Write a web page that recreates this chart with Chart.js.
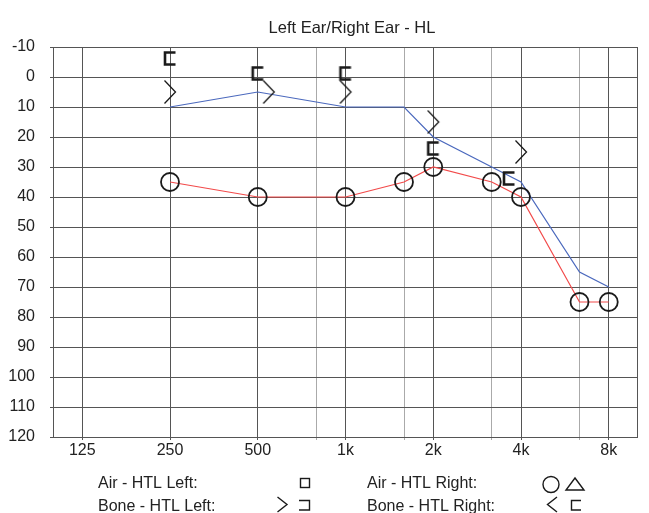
<!DOCTYPE html>
<html>
<head>
<meta charset="utf-8">
<script src="https://cdn.jsdelivr.net/npm/chart.js@4.4.1/dist/chart.umd.min.js"></script>
<style>
  html, body { margin: 0; padding: 0; background: #fff; }
  #wrap { width: 649px; height: 513px; }
</style>
</head>
<body>
<div id="wrap"><canvas id="audiogram" width="649" height="513"></canvas></div>
<script>
// frequencies on the x axis (Hz) and their labels
const gridFreqs = [125, 250, 500, 750, 1000, 1500, 2000, 3000, 4000, 6000, 8000];
const octaveLabels = ["125", "250", "500", "1k", "2k", "4k", "8k"];

// Air - HTL Left (blue line, no marks drawn)
const leftAirFreqs = [250, 500, 1000, 1500, 2000, 3000, 4000, 6000, 8000];
const leftAirDb = [10, 5, 10, 10, 20, 30, 35, 65, 70];

// Air - HTL Right (red line with circles)
const rightAirFreqs = [250, 500, 1000, 1500, 2000, 3000, 4000, 6000, 8000];
const rightAirDb = [35, 40, 40, 35, 30, 35, 40, 75, 75];

// Bone - HTL Left  ">"
const leftBoneFreqs = [250, 500, 1000, 2000, 4000];
const leftBoneDb = [5, 5, 5, 15, 25];

// Bone - HTL Right (masked) "["
const rightBoneFreqs = [250, 500, 1000, 2000, 4000];
const rightBoneDb = [-5, 0, 0, 25, 35];

const FONT = "'Liberation Sans', Arial, sans-serif";
const TEXT = "#222";

// audiogram x position: octaves from 125 Hz, in-between freqs sit 2/3 of the way
function freqPos(f) {
  const o = Math.log2(f / 125);
  const base = Math.floor(o + 1e-9);
  return (o - base < 1e-6) ? base : base + 2 / 3;
}
function points(freqs, db) {
  return freqs.map((f, i) => ({ x: freqPos(f), y: db[i] }));
}

// marker glyphs as little canvases (dx = sideways nudge where marks overlap)
function glyph(kind, dx) {
  const c = document.createElement("canvas");
  c.width = 60; c.height = 40;
  const g = c.getContext("2d");
  const x = 30 + dx, y = 20;
  g.strokeStyle = "#1a1a1a";
  if (kind === ">") {
    g.lineWidth = 1.3;
    g.beginPath();
    g.moveTo(x - 5.5, y - 11.5);
    g.lineTo(x + 5.5, y);
    g.lineTo(x - 5.5, y + 11.5);
    g.stroke();
  } else {
    g.lineWidth = 2.6;
    const yy = y - 3.5;
    g.beginPath();
    g.moveTo(x + 5.5, yy - 6);
    g.lineTo(x - 5, yy - 6);
    g.lineTo(x - 5, yy + 6);
    g.lineTo(x + 5.5, yy + 6);
    g.stroke();
  }
  return c;
}
const gtPlain = glyph(">", 0), gtNudge = glyph(">", 11);
const brPlain = glyph("[", 0), brNudge = glyph("[", -12);

const framePlugin = {
  id: "frame",
  afterDraw(chart) {
    const ctx = chart.ctx;
    const a = chart.chartArea;
    ctx.save();
    ctx.strokeStyle = "#555";
    ctx.lineWidth = 1;
    ctx.strokeRect(a.left + 0.5, a.top + 0.5, a.right - a.left - 1, a.bottom - a.top);

    ctx.fillStyle = TEXT;
    ctx.font = "16.5px " + FONT;
    ctx.textAlign = "center";
    ctx.textBaseline = "alphabetic";
    ctx.fillText("Left Ear/Right Ear - HL", 352, 33);

    // legend
    ctx.font = "16px " + FONT;
    ctx.textAlign = "left";
    ctx.fillText("Air - HTL Left:", 98, 488);
    ctx.fillText("Bone - HTL Left:", 98, 511);
    ctx.fillText("Air - HTL Right:", 367, 488);
    ctx.fillText("Bone - HTL Right:", 367, 511);

    ctx.strokeStyle = "#1a1a1a";
    ctx.lineWidth = 1.4;
    ctx.strokeRect(300.5, 478.5, 9, 9);

    ctx.beginPath();
    ctx.moveTo(277.5, 497); ctx.lineTo(287, 504.5); ctx.lineTo(277.5, 512);
    ctx.stroke();
    ctx.beginPath();
    ctx.moveTo(299, 500.5); ctx.lineTo(309.5, 500.5); ctx.lineTo(309.5, 510); ctx.lineTo(299, 510);
    ctx.stroke();

    ctx.beginPath();
    ctx.arc(551, 484.5, 8, 0, Math.PI * 2);
    ctx.stroke();
    ctx.beginPath();
    ctx.moveTo(575, 478); ctx.lineTo(584, 490); ctx.lineTo(566, 490); ctx.closePath();
    ctx.stroke();

    ctx.beginPath();
    ctx.moveTo(557, 497); ctx.lineTo(547.5, 504.5); ctx.lineTo(557, 512);
    ctx.stroke();
    ctx.beginPath();
    ctx.moveTo(581, 500.5); ctx.lineTo(571.5, 500.5); ctx.lineTo(571.5, 510); ctx.lineTo(581, 510);
    ctx.stroke();
    ctx.restore();
  }
};

const tickPositions = gridFreqs.map(freqPos);

new Chart(document.getElementById("audiogram"), {
  type: "line",
  data: {
    datasets: [
      {
        label: "Bone - HTL Right",
        data: points(rightBoneFreqs, rightBoneDb),
        showLine: false,
        pointStyle: (ctx) => (ctx.dataIndex === 4 ? brNudge : brPlain),
        pointRadius: 10,
      },
      {
        label: "Bone - HTL Left",
        data: points(leftBoneFreqs, leftBoneDb),
        showLine: false,
        pointStyle: (ctx) => (ctx.dataIndex === 1 ? gtNudge : gtPlain),
        pointRadius: 10,
      },
      {
        label: "Air - HTL Right",
        data: points(rightAirFreqs, rightAirDb),
        borderColor: "#f24a4a",
        borderWidth: 1.2,
        pointStyle: "circle",
        pointRadius: 9,
        pointBorderColor: "#1a1a1a",
        pointBorderWidth: 1.8,
        pointBackgroundColor: "rgba(0,0,0,0)",
      },
      {
        label: "Air - HTL Left",
        data: points(leftAirFreqs, leftAirDb),
        borderColor: "#4a68bd",
        borderWidth: 1.2,
        pointRadius: 0,
      },
    ],
  },
  options: {
    responsive: false,
    animation: false,
    events: [],
    layout: { padding: { left: 0, right: 2, top: 47, bottom: 46 } },
    plugins: { legend: { display: false }, tooltip: { enabled: false } },
    scales: {
      x: {
        type: "linear",
        min: -1 / 3,
        max: 6 + 1 / 3,
        afterBuildTicks: (s) => { s.ticks = tickPositions.map((v) => ({ value: v })); },
        afterFit: (s) => { s.height = 30; },
        border: { display: false },
        grid: {
          color: (c) => (Number.isInteger(Math.round(c.tick.value * 1000) / 1000) ? "#555" : "#aaa"),
          tickLength: 3,
        },
        ticks: {
          autoSkip: false,
          maxRotation: 0,
          padding: 1,
          color: TEXT,
          font: { family: FONT, size: 16 },
          callback: (v) => {
            const r = Math.round(v * 1000) / 1000;
            return Number.isInteger(r) ? octaveLabels[r] : "";
          },
        },
      },
      y: {
        reverse: true,
        min: -10,
        max: 120,
        afterFit: (s) => { s.width = 53; },
        border: { display: false },
        grid: {
          color: (c) => (c.tick.value % 10 === 0 ? "#555" : "#aaa"),
          tickLength: 3,
        },
        ticks: {
          stepSize: 5,
          padding: 15,
          color: TEXT,
          font: { family: FONT, size: 16 },
          callback: (v) => (v % 10 === 0 ? String(v) : ""),
        },
      },
    },
  },
  plugins: [framePlugin],
});
</script>
</body>
</html>
